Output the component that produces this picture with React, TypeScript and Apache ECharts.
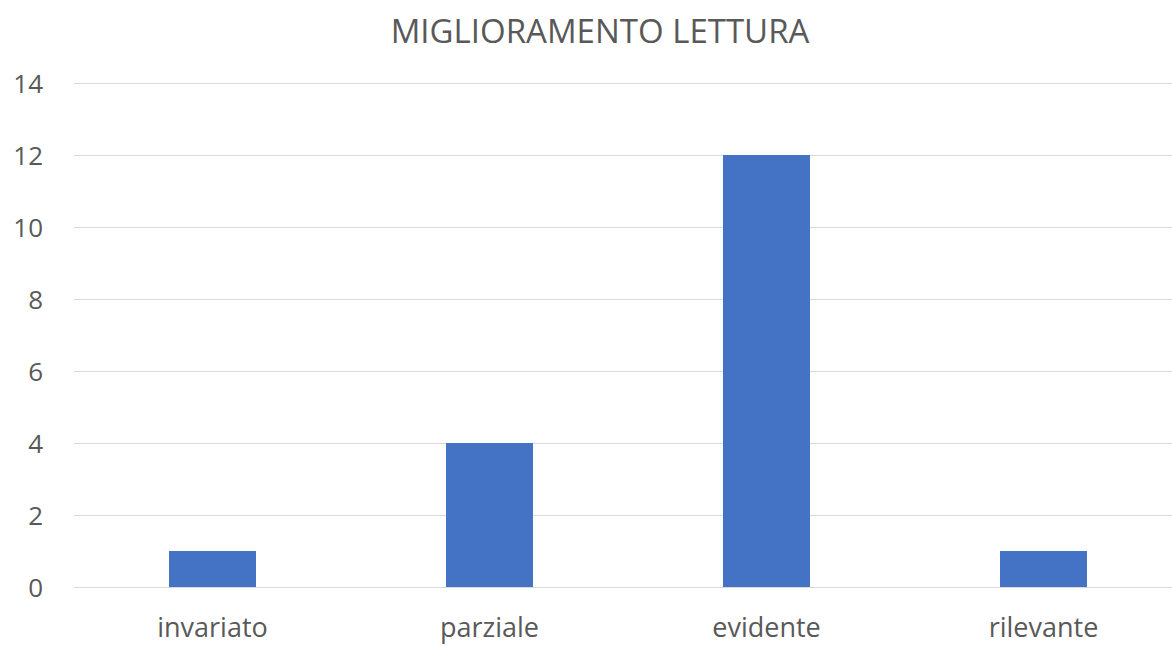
import React, { useEffect, useRef } from "react";
import * as echarts from "echarts";

const categories = ["invariato", "parziale", "evidente", "rilevante"];
const values = [1, 4, 12, 1];
const titleText = "MIGLIORAMENTO LETTURA";

export default function App() {
  const ref = useRef<HTMLDivElement>(null);
  useEffect(() => {
    const chart = echarts.init(ref.current!, null, { renderer: "svg" });
    chart.setOption({
      animation: false,
      backgroundColor: "#ffffff",
      title: {
        text: titleText,
        left: 595,
        textAlign: "center",
        top: 9,
        textStyle: {
          fontFamily: "Open Sans",
          fontSize: 33,
          fontWeight: "normal",
          color: "#595959",
        },
      },
      grid: { left: 74, top: 83, width: 1108, height: 504 },
      xAxis: {
        type: "category",
        data: categories,
        axisLine: { show: true, lineStyle: { color: "#D9D9D9", width: 1 } },
        axisTick: { show: false },
        axisLabel: {
          fontFamily: "Open Sans",
          fontSize: 27,
          color: "#595959",
          margin: 26,
        },
      },
      yAxis: {
        type: "value",
        min: 0,
        max: 14,
        interval: 2,
        axisLine: { show: false },
        axisTick: { show: false },
        splitLine: { lineStyle: { color: "#D9D9D9", width: 1 } },
        axisLabel: {
          fontFamily: "Open Sans",
          fontSize: 26,
          color: "#595959",
          margin: 31,
        },
      },
      series: [
        {
          type: "bar",
          data: values,
          barWidth: "31.4%",
          itemStyle: { color: "#4472C4" },
        },
      ],
    });
    return () => chart.dispose();
  }, []);
  return (
    <div
      style={{
        position: "fixed",
        left: 0,
        top: 0,
        width: 1172,
        height: 646,
        overflow: "hidden",
        background: "#ffffff",
      }}
    >
      <div ref={ref} style={{ width: 1200, height: 646 }} />
    </div>
  );
}
